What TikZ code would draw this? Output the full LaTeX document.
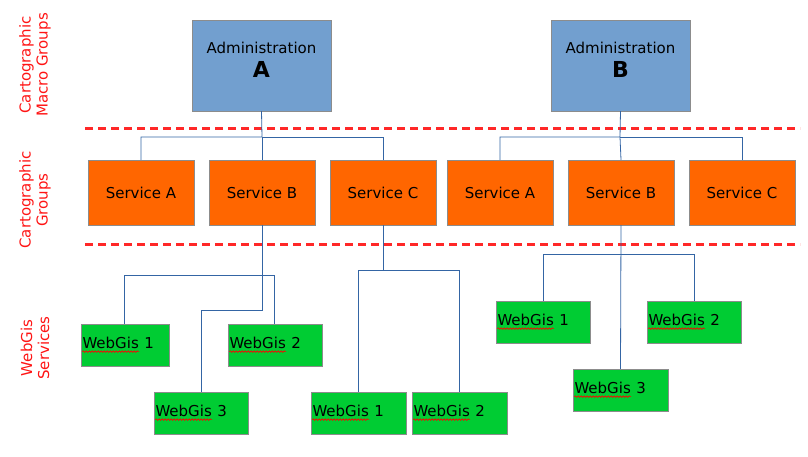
\documentclass[tikz,border=0pt]{standalone}
\usepackage{fontspec}
\setmainfont{DejaVu Sans}
\usetikzlibrary{decorations.pathmorphing}
\tikzset{
  admin/.style={draw=black!45,fill={rgb,255:red,114;green,159;blue,207},minimum width=139pt,minimum height=91pt,text depth=12pt,align=center,font=\fontsize{15}{18}\selectfont},
  serv/.style={draw=black!45,fill={rgb,255:red,255;green,102;blue,0},minimum width=106pt,minimum height=65pt,font=\fontsize{15}{18}\selectfont},
  gis/.style={draw=black!45,fill={rgb,255:red,0;green,204;blue,51},inner sep=1pt,minimum height=42pt,text width=#1,align=left,font=\fontsize{15}{18}\selectfont},
  gis/.default=92pt,
  link/.style={draw={rgb,255:red,52;green,101;blue,164},line width=0.8pt},
  sep/.style={color={rgb,255:red,255;green,40;blue,40},line width=3pt,dash pattern=on 8pt off 5pt},
  side/.style={color={rgb,255:red,255;green,20;blue,20},rotate=90,align=center,font=\fontsize{15}{17}\selectfont},
  squig/.style={red,line width=0.6pt,decorate,decoration={snake,amplitude=0.8pt,segment length=3pt}}
}
\newcommand{\gistext}[1]{\tikz[baseline=(w.base)]{\node[inner sep=0pt,minimum width=0pt,minimum height=0pt,text width=,draw=none,fill=none](w){WebGis};\draw[squig]([yshift=-2.5pt]w.south west)--([yshift=-2.5pt]w.south east);}~#1}
\begin{document}
\begin{tikzpicture}[x=1pt,y=-1pt]
\useasboundingbox (0,0) rectangle (808,456);
% side labels
\node[side] (lmacro) at (35,65) {Cartographic\\Macro Groups};
\node[side] (lgroup) at (35,200) {Cartographic\\Groups};
\node[side] (lgis) at (35,348) {WebGis\\Services};
% separators
\draw[sep] (85,128) -- (800,128);
\draw[sep] (85,244) -- (800,244);
% administrations
\node[admin] (adma) at (261.5,65.5) {Administration\\[6pt]{\fontsize{22}{24}\selectfont\bfseries A}};
\node[admin] (admb) at (620.5,65.5) {Administration\\[6pt]{\fontsize{22}{24}\selectfont\bfseries B}};
% services
\node[serv] (sa1) at (141,192.5) {Service A};
\node[serv] (sb1) at (262,192.5) {Service B};
\node[serv] (sc1) at (383,192.5) {Service C};
\node[serv] (sa2) at (500,192.5) {Service A};
\node[serv] (sb2) at (621,192.5) {Service B};
\node[serv] (sc2) at (742,192.5) {Service C};
% webgis
\node[gis=86pt] (ga1) at (125,345) {\gistext{1}};
\node[gis] (ga2) at (275,345) {\gistext{2}};
\node[gis] (ga3) at (201,413) {\gistext{3}};
\node[gis=93pt] (gc1) at (358.5,413) {\gistext{1}};
\node[gis=93pt] (gc2) at (459.5,413) {\gistext{2}};
\node[gis] (gb1) at (543,322) {\gistext{1}};
\node[gis] (gb2) at (694,322) {\gistext{2}};
\node[gis=93pt] (gb3) at (620.5,390) {\gistext{3}};
% junctions
\coordinate (ja) at (262,137);
\coordinate (jb) at (620,137);
\coordinate (jsb) at (262,275);
\coordinate (jsb3) at (262,310);
\coordinate (jsc) at (383,270);
\coordinate (jsb2) at (620,254);
% connectors
\draw[link] (adma.south) -- (ja) -| (sa1.north);
\draw[link] (ja) -- (sb1.north);
\draw[link] (ja) -| (sc1.north);
\draw[link] (admb.south) -- (jb) -| (sa2.north);
\draw[link] (jb) -- (sb2.north);
\draw[link] (jb) -| (sc2.north);
\draw[link] (sb1.south) -- (jsb3) -| (ga3.north);
\draw[link] (jsb) -| ([xshift=-1pt]ga1.north);
\draw[link] (jsb) -| ([xshift=-1pt]ga2.north);
\draw[link] (sc1.south) -- (jsc) -| (gc1.north);
\draw[link] (jsc) -| (gc2.north);
\draw[link] (sb2.south) -- (gb3.north);
\draw[link] (jsb2) -| (gb1.north);
\draw[link] (jsb2) -| (gb2.north);
\end{tikzpicture}
\end{document}
